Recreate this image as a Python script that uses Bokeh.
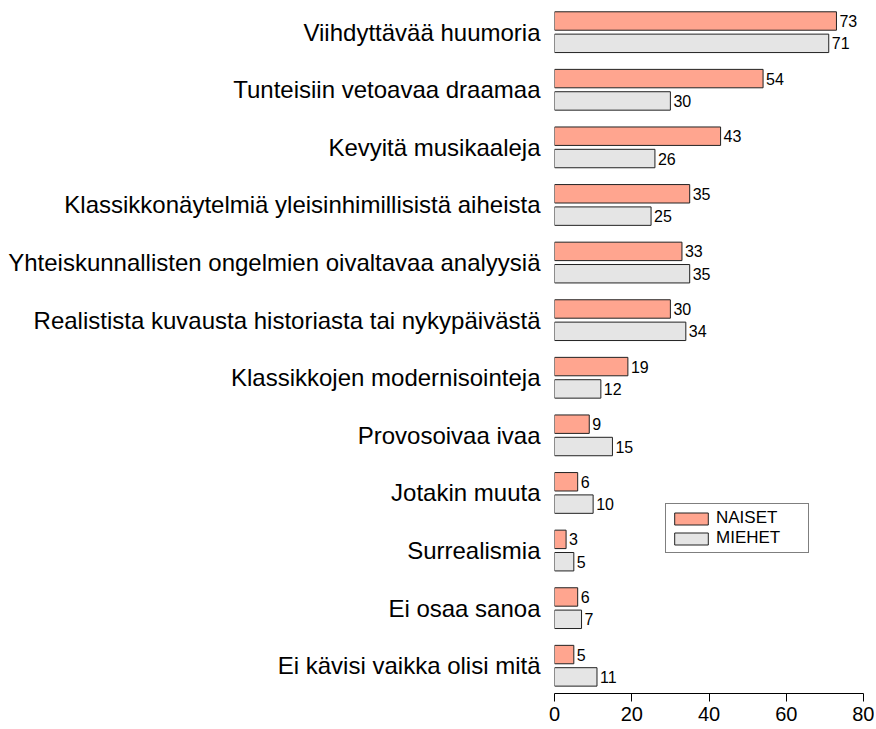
from bokeh.plotting import figure
from bokeh.models import ColumnDataSource, FixedTicker, Legend, LegendItem
from bokeh.transform import dodge
from bokeh.core.properties import value
from bokeh.embed import file_html
from bokeh.resources import INLINE

categories = [
    "Viihdyttävää huumoria",
    "Tunteisiin vetoavaa draamaa",
    "Kevyitä musikaaleja",
    "Klassikkonäytelmiä yleisinhimillisistä aiheista",
    "Yhteiskunnallisten ongelmien oivaltavaa analyysiä",
    "Realistista kuvausta historiasta tai nykypäivästä",
    "Klassikkojen modernisointeja",
    "Provosoivaa ivaa",
    "Jotakin muuta",
    "Surrealismia",
    "Ei osaa sanoa",
    "Ei kävisi vaikka olisi mitä",
]
naiset = [73, 54, 43, 35, 33, 30, 19, 9, 6, 3, 6, 5]
miehet = [71, 30, 26, 25, 35, 34, 12, 15, 10, 5, 7, 11]
x_ticks = [0, 20, 40, 60, 80]

n = len(categories)
pos = [n - 1 - i for i in range(n)]
src = ColumnDataSource(dict(
    pos=pos, naiset=naiset, miehet=miehet,
    naiset_txt=[str(v) for v in naiset],
    miehet_txt=[str(v) for v in miehet],
))

FONT = "Liberation Sans"
p = figure(
    frame_width=309, frame_height=685,
    x_range=(0, 80), y_range=(-0.482, n - 1 + 0.411),
    output_backend="svg", toolbar_location=None,
    min_border_left=554, min_border_right=11, min_border_top=8, min_border_bottom=34,
)
p.outline_line_color = None
p.xgrid.visible = False
p.ygrid.visible = False
p.background_fill_color = "white"
p.border_fill_color = "white"

off = 0.194
h = 0.32
r1 = p.hbar(y=dodge("pos", off), left=0, right="naiset", height=h, source=src,
            fill_color="#FFA58F", line_color="#222222", line_width=1)
r2 = p.hbar(y=dodge("pos", -off), left=0, right="miehet", height=h, source=src,
            fill_color="#E5E5E5", line_color="#222222", line_width=1)

p.text(x="naiset", y=dodge("pos", off), text="naiset_txt", source=src,
       x_offset=3, text_align="left", text_baseline="middle",
       text_font=value(FONT), text_font_size="16px", text_color="black")
p.text(x="miehet", y=dodge("pos", -off), text="miehet_txt", source=src,
       x_offset=3, text_align="left", text_baseline="middle",
       text_font=value(FONT), text_font_size="16px", text_color="black")

# x axis
xa = p.xaxis[0]
xa.ticker = FixedTicker(ticks=x_ticks)
xa.axis_line_color = "black"
xa.major_tick_line_color = "black"
xa.major_tick_out = 8
xa.major_tick_in = 0
xa.minor_tick_line_color = None
xa.major_label_text_font = FONT
xa.major_label_text_font_size = "20px"
xa.major_label_text_color = "black"
xa.major_label_standoff = 5

# y axis
ya = p.yaxis[0]
ya.ticker = FixedTicker(ticks=pos)
ya.major_label_overrides = {pos[i]: categories[i] for i in range(n)}
ya.axis_line_color = None
ya.major_tick_line_color = None
ya.minor_tick_line_color = None
ya.major_tick_out = 0
ya.major_tick_in = 0
ya.major_label_standoff = 14
ya.major_label_text_font = FONT
ya.major_label_text_font_size = "24px"
ya.major_label_text_color = "black"

legend = Legend(items=[LegendItem(label="NAISET", renderers=[r1]),
                       LegendItem(label="MIEHET", renderers=[r2])],
                location=(111, 140))
legend.glyph_width = 42
legend.glyph_height = 15
legend.label_height = 15
legend.label_width = 88
legend.spacing = 0
legend.padding = 4
legend.margin = 0
legend.label_standoff = 4
legend.label_text_font = FONT
legend.label_text_font_size = "17px"
legend.label_text_color = "black"
legend.border_line_color = "black"
legend.border_line_width = 1
legend.background_fill_alpha = 1
p.add_layout(legend, "center")

open("out.html", "w").write(file_html(p, INLINE))
